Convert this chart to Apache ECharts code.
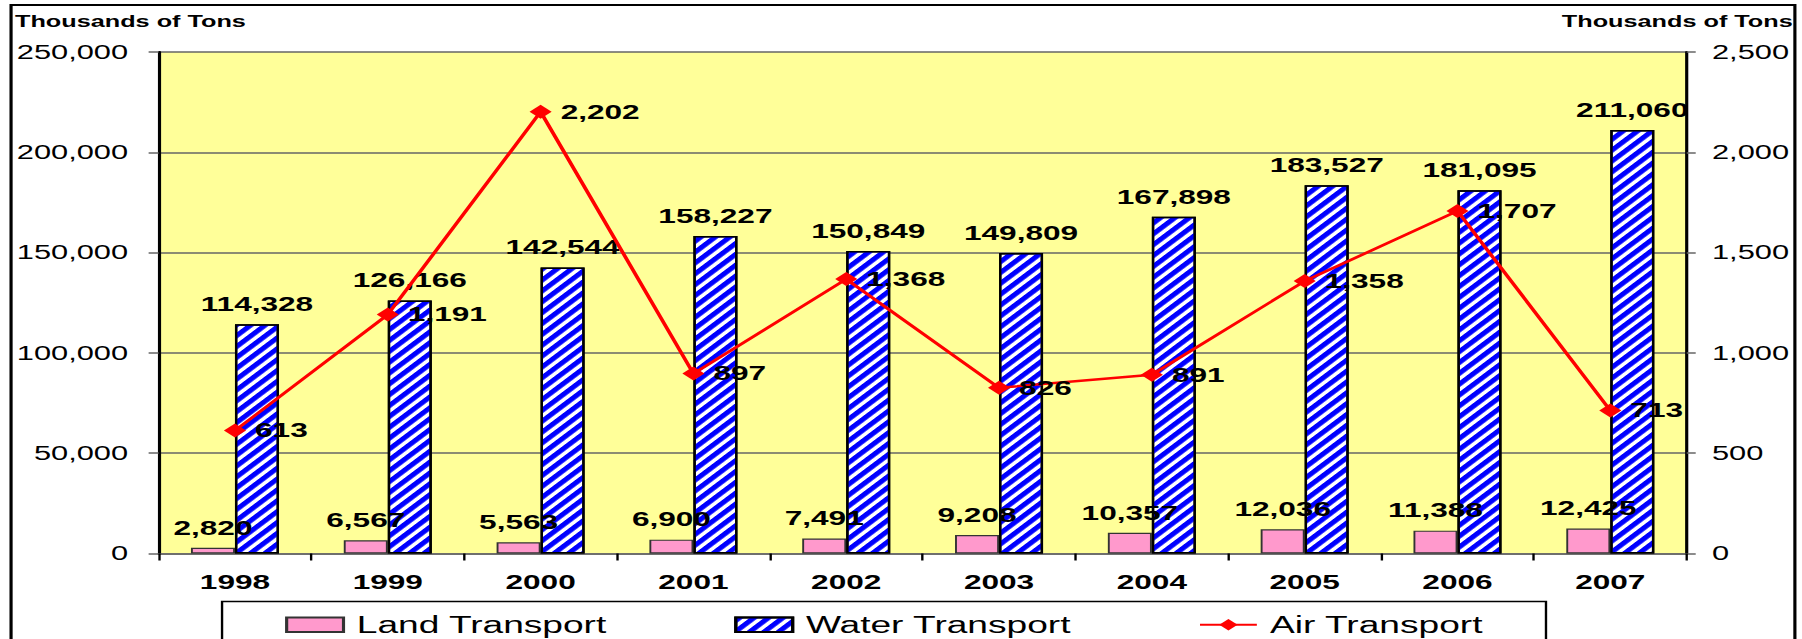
<!DOCTYPE html>
<html>
<head>
<meta charset="utf-8">
<title>Freight Transport 1998-2007</title>
<script src="https://cdn.jsdelivr.net/npm/echarts@6/dist/echarts.min.js"></script>
<style>
  html, body { margin: 0; padding: 0; background: #ffffff; overflow: hidden; }
  #wrap { width: 1802px; height: 639px; overflow: hidden; }
  /* the chart is laid out narrow and widened horizontally, like the original exported figure */
  #chart { width: 1141px; height: 639px; transform-origin: 0 0; }
</style>
</head>
<body>
<div id="wrap"><div id="chart"></div></div>
<script>
const years = ['1998', '1999', '2000', '2001', '2002', '2003', '2004', '2005', '2006', '2007'];
const landTransport = [2820, 6567, 5563, 6900, 7491, 9208, 10357, 12036, 11388, 12425];
const waterTransport = [114328, 126166, 142544, 158227, 150849, 149809, 167898, 183527, 181095, 211060];
const airTransport = [613, 1191, 2202, 897, 1368, 826, 891, 1358, 1707, 713];
const seriesNames = ['Land Transport', 'Water Transport', 'Air Transport'];
const unitLabel = 'Thousands of Tons';

const STRETCH = 1802 / 1141;
const FONT = "'Liberation Sans', Arial, sans-serif";

document.getElementById('chart').style.transform = 'scaleX(' + STRETCH + ')';

function withCommas(v) {
  const s = String(Math.round(v));
  return s.replace(/\B(?=(\d{3})+(?!\d))/g, ',');
}

const dataLabel = {
  show: true,
  color: '#000',
  fontFamily: FONT,
  fontWeight: 'bold',
  fontSize: 20,
  formatter: p => withCommas(p.value)
};

const chart = echarts.init(document.getElementById('chart'), null, { renderer: 'svg' });

chart.setOption({
  animation: false,
  backgroundColor: '#ffffff',
  title: [
    { text: unitLabel, left: 9.5, top: 13, padding: 0,
      textStyle: { fontFamily: FONT, fontWeight: 'bold', fontSize: 16, color: '#000' } },
    { text: unitLabel, right: 5.7, top: 13, padding: 0,
      textStyle: { fontFamily: FONT, fontWeight: 'bold', fontSize: 16, color: '#000' } }
  ],
  graphic: [
    { type: 'rect', silent: true, z: 0,
      shape: { x: 7, y: 5, width: 1129.5, height: 700 },
      style: { fill: 'none', stroke: '#000', lineWidth: 2 } },
    { type: 'rect', silent: true, z: 0,
      shape: { x: 140.6, y: 601.5, width: 838.3, height: 60 },
      style: { fill: 'none', stroke: '#000', lineWidth: 1.5 } }
  ],
  legend: {
    data: [
      { name: seriesNames[0], icon: 'rect' },
      { name: seriesNames[1], icon: 'rect' },
      { name: seriesNames[2] }
    ],
    left: 180.5,
    top: 612.7,
    padding: 0,
    itemWidth: 36,
    itemHeight: 14.5,
    itemGap: 80.5,
    textStyle: { fontFamily: FONT, fontSize: 23.5, color: '#000', padding: [0, 0, 0, 3.4] }
  },
  grid: {
    left: 100.4, right: 73, top: 52, bottom: 85.5,
    show: true, backgroundColor: '#FFFF99', borderWidth: 0
  },
  xAxis: {
    type: 'category',
    data: years,
    axisLine: { lineStyle: { color: '#666', width: 1.5 } },
    axisTick: { show: true, length: 7, lineStyle: { color: '#000', width: 1.5 } },
    axisLabel: { margin: 19, color: '#000', fontFamily: FONT, fontWeight: 'bold', fontSize: 20 },
    splitLine: { show: false }
  },
  yAxis: [
    {
      type: 'value', position: 'left',
      min: 0, max: 250000, interval: 50000,
      axisLine: { show: true, lineStyle: { color: '#000', width: 2 } },
      axisTick: { show: true, length: 6.3, lineStyle: { color: '#666', width: 1.5 } },
      splitLine: { show: true, lineStyle: { color: '#666', width: 1.5 } },
      axisLabel: { margin: 19.3, color: '#000', fontFamily: FONT, fontSize: 19.5, formatter: withCommas }
    },
    {
      type: 'value', position: 'right',
      min: 0, max: 2500, interval: 500,
      axisLine: { show: true, lineStyle: { color: '#000', width: 2 } },
      axisTick: { show: true, length: 5.7, lineStyle: { color: '#666', width: 1.5 } },
      splitLine: { show: false },
      axisLabel: { margin: 16, color: '#000', fontFamily: FONT, fontSize: 19.5, formatter: withCommas }
    }
  ],
  series: [
    {
      name: seriesNames[0],
      type: 'bar',
      yAxisIndex: 0,
      data: landTransport,
      barWidth: '28.8%',
      barGap: '0%',
      itemStyle: { color: '#FF99CC', borderColor: '#333', borderWidth: 1.2 },
      label: Object.assign({ position: 'top', distance: 10 }, dataLabel)
    },
    {
      name: seriesNames[1],
      type: 'bar',
      yAxisIndex: 0,
      data: waterTransport,
      barWidth: '28.8%',
      barGap: '0%',
      itemStyle: {
        color: '#FFFFFF', borderColor: '#000', borderWidth: 1.5,
        decal: {
          symbol: 'rect',
          symbolSize: 1,
          color: '#0000FF',
          backgroundColor: '#FFFFFF',
          dashArrayX: [1, 0],
          dashArrayY: [3.2, 3],
          rotation: -0.87
        }
      },
      label: Object.assign({ position: 'top', distance: 10 }, dataLabel)
    },
    {
      name: seriesNames[2],
      type: 'line',
      yAxisIndex: 1,
      data: airTransport,
      z: 5,
      symbol: 'diamond',
      symbolSize: 14,
      itemStyle: { color: '#FF0000' },
      lineStyle: { color: '#FF0000', width: 2.5 },
      label: Object.assign({ position: 'right', distance: 5.7 }, dataLabel)
    }
  ]
});
</script>
</body>
</html>
